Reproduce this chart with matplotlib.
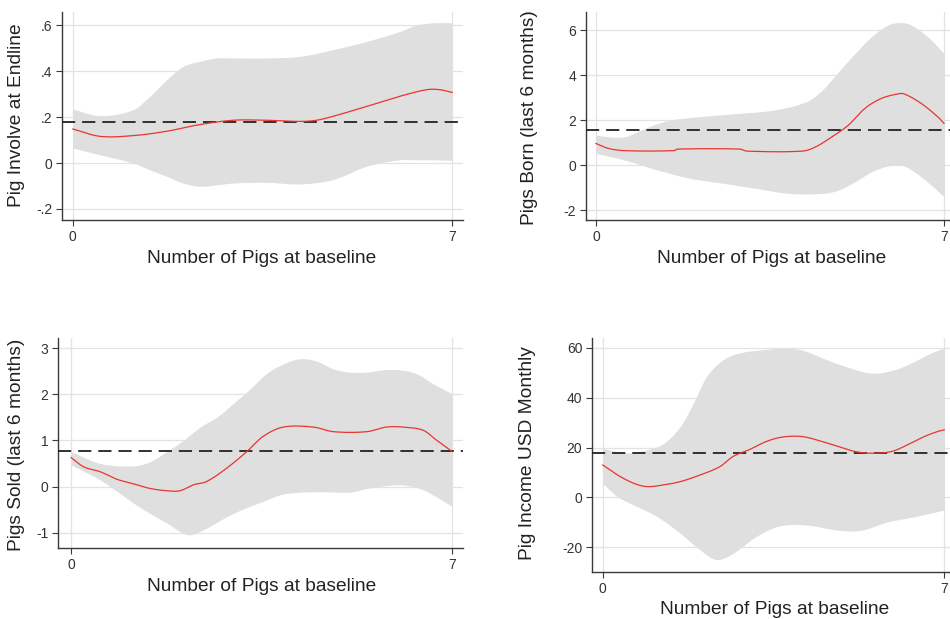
import matplotlib
matplotlib.use("Agg")
import matplotlib.pyplot as plt
import numpy as np

plt.rcParams['font.family'] = ['Liberation Sans', 'DejaVu Sans']
plt.rcParams['lines.scale_dashes'] = False

# ---------------- data ----------------
# Panel 1: Pig Involve at Endline
inv_x = [0, 0.5, 1.11, 1.73, 2.34, 2.96, 3.57, 4.19, 4.5, 4.8, 5.42, 6.03, 6.53, 6.77, 7]
inv_y = [0.148, 0.116, 0.119, 0.138, 0.167, 0.186, 0.186, 0.181, 0.186, 0.203, 0.246, 0.29, 0.319, 0.319, 0.307]
inv_ci_x = [0, 0.5, 1.11, 1.42, 1.73, 2.03, 2.34, 2.65, 2.96, 3.57, 4.19, 4.8, 5.42, 6.03, 6.34, 6.65, 7]
inv_hi = [0.235, 0.206, 0.232, 0.29, 0.362, 0.42, 0.442, 0.457, 0.457, 0.457, 0.464, 0.493, 0.529, 0.572, 0.6, 0.61, 0.61]
inv_lo = [0.065, 0.036, 0.0, -0.03, -0.058, -0.087, -0.101, -0.095, -0.087, -0.084, -0.091, -0.072, -0.014, 0.014, 0.014, 0.014, 0.012]
inv_mean = 0.177

# Panel 2: Pigs Born (last 6 months)
born_x = [0, 0.25, 0.58, 1.57, 1.64, 2.9, 3.03, 4.15, 4.42, 4.75, 5.08, 5.41, 5.74, 6.07, 6.2, 6.54, 6.87, 7]
born_y = [0.96, 0.74, 0.64, 0.64, 0.71, 0.71, 0.62, 0.62, 0.81, 1.26, 1.78, 2.52, 2.96, 3.16, 3.16, 2.74, 2.15, 1.85]
born_hi_x = [0, 0.25, 0.58, 0.91, 1.24, 1.57, 2.23, 2.89, 3.56, 4.22, 4.55, 4.88, 5.21, 5.54, 5.87, 6.14, 6.34, 6.67, 7]
born_hi = [1.33, 1.26, 1.26, 1.56, 1.85, 2.03, 2.18, 2.3, 2.44, 2.81, 3.33, 4.15, 4.96, 5.7, 6.22, 6.33, 6.22, 5.7, 4.96]
born_lo_x = [0, 0.58, 1.24, 1.9, 2.56, 3.23, 3.89, 4.55, 4.88, 5.21, 5.54, 5.87, 6.14, 6.4, 6.74, 7]
born_lo = [0.52, 0.22, -0.22, -0.59, -0.81, -1.04, -1.26, -1.26, -1.11, -0.74, -0.3, -0.04, 0.0, -0.3, -0.89, -1.41]
born_mean = 1.58

# Panel 3: Pigs Sold (last 6 months)
sold_x = [0, 0.23, 0.54, 0.84, 1.15, 1.45, 1.76, 2.0, 2.25, 2.49, 2.86, 3.23, 3.53, 3.9, 4.45, 4.82, 5.43, 5.79, 6.1, 6.47, 6.71, 7]
sold_y = [0.63, 0.43, 0.32, 0.16, 0.06, -0.04, -0.09, -0.09, 0.04, 0.11, 0.4, 0.76, 1.09, 1.29, 1.29, 1.19, 1.19, 1.29, 1.29, 1.22, 1.01, 0.76]
sold_hi_x = [0, 0.54, 1.15, 1.45, 1.76, 2.07, 2.37, 2.68, 2.98, 3.29, 3.59, 3.9, 4.2, 4.51, 4.82, 5.12, 5.43, 5.73, 6.04, 6.34, 6.65, 7]
sold_hi = [0.76, 0.5, 0.45, 0.54, 0.76, 1.01, 1.29, 1.51, 1.8, 2.12, 2.45, 2.66, 2.77, 2.72, 2.55, 2.48, 2.48, 2.53, 2.53, 2.45, 2.23, 2.01]
sold_lo_x = [0, 0.54, 1.15, 1.45, 1.76, 2.13, 2.37, 2.98, 3.59, 3.9, 4.51, 5.12, 5.43, 6.04, 6.4, 6.65, 7]
sold_lo = [0.47, 0.14, -0.36, -0.58, -0.79, -1.04, -0.97, -0.58, -0.29, -0.16, -0.11, -0.12, -0.04, 0.04, -0.04, -0.18, -0.43]
sold_mean = 0.77

# Panel 4: Pig Income USD Monthly
inc_x = [0, 0.3, 0.64, 0.91, 1.25, 1.59, 2.0, 2.4, 2.67, 3.0, 3.35, 3.68, 4.09, 4.5, 4.83, 5.17, 5.51, 5.92, 6.25, 6.59, 6.86, 7]
inc_y = [13.0, 9.0, 5.6, 4.3, 5.0, 6.3, 9.0, 12.3, 16.4, 19.1, 22.4, 24.2, 24.4, 22.4, 20.4, 18.4, 17.7, 18.4, 21.1, 24.4, 26.4, 27.1]
inc_hi_x = [0, 0.37, 0.64, 0.91, 1.25, 1.59, 1.86, 2.13, 2.47, 2.8, 3.28, 3.82, 4.16, 4.5, 4.97, 5.51, 5.99, 6.39, 6.73, 7]
inc_hi = [19.7, 18.0, 18.0, 19.1, 21.7, 28.5, 37.9, 48.6, 55.3, 58.0, 59.3, 60.0, 58.7, 56.0, 52.6, 49.9, 51.3, 54.6, 58.0, 60.0]
inc_lo_x = [0, 0.3, 0.64, 1.12, 1.59, 2.0, 2.33, 2.67, 3.14, 3.62, 4.16, 4.83, 5.3, 5.85, 6.39, 7]
inc_lo = [5.6, 0.3, -3.1, -7.8, -14.5, -21.2, -25.0, -22.5, -15.8, -11.5, -11.1, -13.2, -13.2, -9.8, -7.8, -5.1]
inc_mean = 17.7

x_ticks = [0, 7]
x_label = "Number of Pigs at baseline"

# ---------------- styling ----------------
W, H = 950, 619
FILL = '#dfdfdf'
GRID = '#e3e3e3'
RED = '#e8352f'
AXC = '#3a3a3a'
LABEL_FS = 13.8
TICK_FS = 10

fig = plt.figure(figsize=(W / 100, H / 100), dpi=100)


def make_ax(left, right, top, bottom):
    return fig.add_axes([left / W, 1 - bottom / H, (right - left) / W, (bottom - top) / H])


def smooth(xs, ys, n=300):
    xs = np.asarray(xs, float)
    ys = np.asarray(ys, float)
    xx = np.linspace(xs.min(), xs.max(), n)
    m = np.zeros_like(ys)
    m[1:-1] = (ys[2:] - ys[:-2]) / (xs[2:] - xs[:-2])
    m[0] = (ys[1] - ys[0]) / (xs[1] - xs[0])
    m[-1] = (ys[-1] - ys[-2]) / (xs[-1] - xs[-2])
    idx = np.clip(np.searchsorted(xs, xx) - 1, 0, len(xs) - 2)
    h = xs[idx + 1] - xs[idx]
    t = (xx - xs[idx]) / h
    h00 = 2 * t**3 - 3 * t**2 + 1
    h10 = t**3 - 2 * t**2 + t
    h01 = -2 * t**3 + 3 * t**2
    h11 = t**3 - t**2
    yy = h00 * ys[idx] + h10 * h * m[idx] + h01 * ys[idx + 1] + h11 * h * m[idx + 1]
    return xx, yy


def panel(ax, lx, ly, hx, hy, lox, loy, mean, yticks, yticklabels, ylim, xlim, ylabel,
          xlab_pos, ylab_pos):
    gx, ghi = smooth(hx, hy)
    glo = np.interp(gx, *smooth(lox, loy))
    ax.fill_between(gx, glo, ghi, color=FILL, lw=0, zorder=1)
    ax.axhline(mean, color='#222222', lw=1.3, dashes=(9.5, 5), zorder=3)
    sx, sy = smooth(lx, ly)
    ax.plot(sx, sy, color=RED, lw=0.9, zorder=4)
    ax.set_xlim(*xlim)
    ax.set_ylim(*ylim)
    ax.set_xticks(x_ticks)
    ax.set_xticklabels([str(v) for v in x_ticks])
    ax.set_yticks(yticks)
    ax.set_yticklabels(yticklabels)
    ax.grid(True, color=GRID, lw=0.9, zorder=0)
    ax.set_axisbelow(True)
    for s in ['top', 'right']:
        ax.spines[s].set_visible(False)
    for s in ['left', 'bottom']:
        ax.spines[s].set_color(AXC)
        ax.spines[s].set_linewidth(1.0)
    ax.tick_params(colors=AXC, labelcolor='#333333', labelsize=TICK_FS, length=4, width=0.8, pad=3)
    ax.set_xlabel(x_label, fontsize=LABEL_FS, color='#222222', va='baseline')
    ax.xaxis.set_label_coords(xlab_pos[0] / W, 1 - xlab_pos[1] / H, transform=fig.transFigure)
    ax.set_ylabel(ylabel, fontsize=LABEL_FS, color='#222222', va='center')
    ax.yaxis.set_label_coords(ylab_pos[0] / W, 1 - ylab_pos[1] / H, transform=fig.transFigure)


ax1 = make_ax(62, 463, 12, 220)
panel(ax1, inv_x, inv_y, inv_ci_x, inv_hi, inv_ci_x, inv_lo, inv_mean,
      [-0.2, 0, 0.2, 0.4, 0.6], ['-.2', '0', '.2', '.4', '.6'], (-0.248, 0.657), (-0.2, 7.2),
      'Pig Involve at Endline', (262, 263), (17, 115))

ax2 = make_ax(586, 954, 12, 220)
panel(ax2, born_x, born_y, born_hi_x, born_hi, born_lo_x, born_lo, born_mean,
      [-2, 0, 2, 4, 6], ['-2', '0', '2', '4', '6'], (-2.44, 6.8), (-0.2, 7.2),
      'Pigs Born (last 6 months)', (772, 263), (529, 118))

ax3 = make_ax(58, 463, 338, 548)
panel(ax3, sold_x, sold_y, sold_hi_x, sold_hi, sold_lo_x, sold_lo, sold_mean,
      [-1, 0, 1, 2, 3], ['-1', '0', '1', '2', '3'], (-1.33, 3.22), (-0.24, 7.2),
      'Pigs Sold (last 6 months)', (262, 591), (17, 445))

ax4 = make_ax(592, 954, 338, 572)
panel(ax4, inc_x, inc_y, inc_hi_x, inc_hi, inc_lo_x, inc_lo, inc_mean,
      [-20, 0, 20, 40, 60], ['-20', '0', '20', '40', '60'], (-30, 64), (-0.22, 7.2),
      'Pig Income USD Monthly', (775, 614), (528, 453))

fig.savefig('out.png', dpi=100)
